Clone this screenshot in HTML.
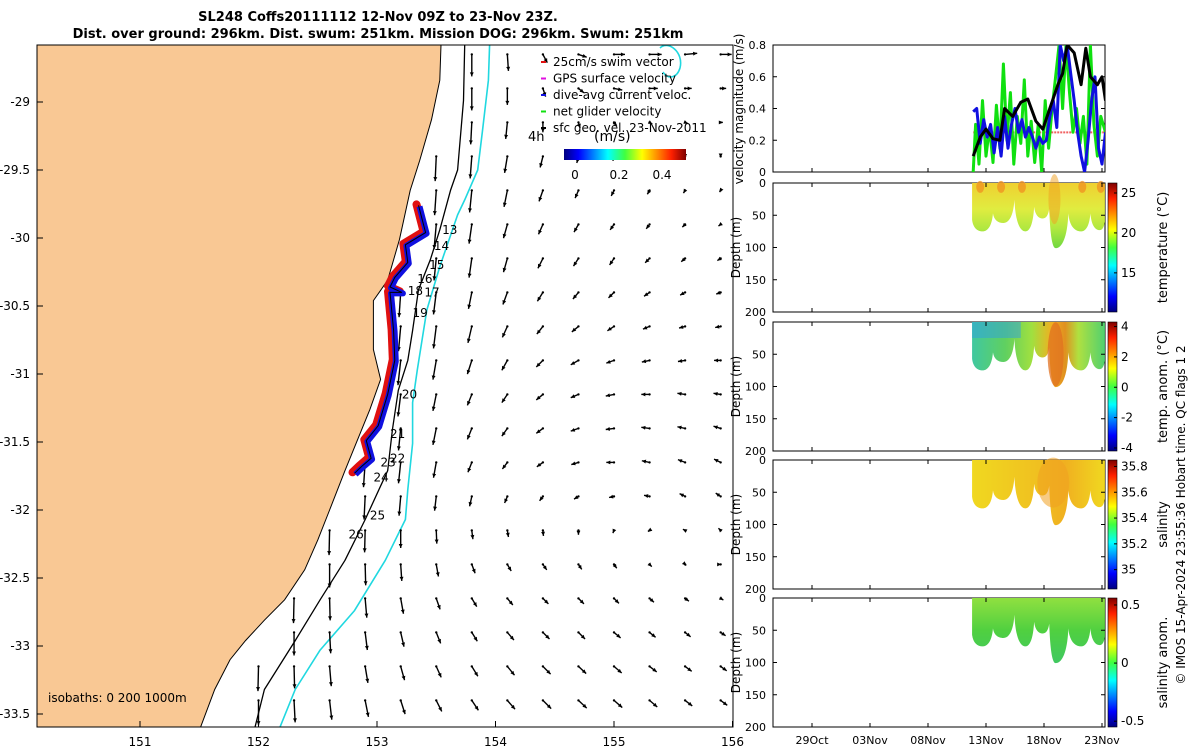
<!DOCTYPE html>
<html><head><meta charset="utf-8">
<style>
html,body{margin:0;padding:0;background:#fff;}
svg{display:block;font-family:"DejaVu Sans","Liberation Sans",sans-serif;}
</style></head>
<body>
<svg id="root" width="1200" height="750" viewBox="0 0 1200 750" xmlns="http://www.w3.org/2000/svg">
<defs>
<linearGradient id="jet" x1="0" y1="1" x2="0" y2="0">
<stop offset="0" stop-color="#00007f"/><stop offset="0.12" stop-color="#0000ff"/><stop offset="0.36" stop-color="#00ffff"/><stop offset="0.5" stop-color="#40ff40"/><stop offset="0.64" stop-color="#ffff00"/><stop offset="0.88" stop-color="#ff2000"/><stop offset="1" stop-color="#7f0000"/>
</linearGradient>
<linearGradient id="jeth" x1="0" y1="0" x2="1" y2="0">
<stop offset="0" stop-color="#00007f"/><stop offset="0.12" stop-color="#0000ff"/><stop offset="0.36" stop-color="#00ffff"/><stop offset="0.5" stop-color="#40ff40"/><stop offset="0.64" stop-color="#ffff00"/><stop offset="0.88" stop-color="#ff2000"/><stop offset="1" stop-color="#7f0000"/>
</linearGradient>
<linearGradient id="gTemp" x1="0" y1="0" x2="0" y2="1"><stop offset="0" stop-color="#f0d030"/><stop offset="0.4" stop-color="#e0ec40"/><stop offset="0.7" stop-color="#b0e840"/><stop offset="1" stop-color="#70d840"/></linearGradient>
<linearGradient id="gAnom" x1="0" y1="0" x2="1" y2="0"><stop offset="0" stop-color="#40c8a0"/><stop offset="0.25" stop-color="#60d060"/><stop offset="0.45" stop-color="#a0e040"/><stop offset="0.6" stop-color="#f0b020"/><stop offset="0.7" stop-color="#e09020"/><stop offset="0.8" stop-color="#b0e040"/><stop offset="1" stop-color="#50d070"/></linearGradient>
<linearGradient id="gSal" x1="0" y1="0" x2="1" y2="0"><stop offset="0" stop-color="#f0d820"/><stop offset="0.5" stop-color="#f0c020"/><stop offset="0.7" stop-color="#f0b020"/><stop offset="1" stop-color="#f0d820"/></linearGradient>
<linearGradient id="gSalA" x1="0" y1="0" x2="0" y2="1"><stop offset="0" stop-color="#90e040"/><stop offset="0.5" stop-color="#50d040"/><stop offset="1" stop-color="#40c860"/></linearGradient>
<clipPath id="mapClip"><rect x="37" y="45" width="696" height="682"/></clipPath>
</defs>
<g id="map" clip-path="url(#mapClip)"></g>
<g id="overlay"></g>
</svg>
<script>
// ---------- data ----------
const lonTicks=[151,152,153,154,155,156];
const latTicks=[-29,-29.5,-30,-30.5,-31,-31.5,-32,-32.5,-33,-33.5];
const gridLons=[152.0,152.3,152.6,152.9,153.2,153.5,153.8,154.1,154.4,154.7,155.0,155.3,155.6,155.9];
const gridLats=[-28.65,-28.9,-29.15,-29.4,-29.65,-29.9,-30.15,-30.4,-30.65,-30.9,-31.15,-31.4,-31.65,-31.9,-32.15,-32.4,-32.65,-32.9,-33.15,-33.4];
const vGrid=[
[0,0,0,0,0,0,-40,-30,-15,-5,0,0,2,0],
[0,0,0,0,0,0,-40,-30,-15,-8,-3,0,0,0],
[0,0,0,0,0,0,-40,-30,-18,-10,-6,-3,-2,0],
[0,0,0,0,0,-45,-40,-30,-20,-12,-8,-5,-3,-2],
[0,0,0,0,0,-45,-40,-30,-20,-14,-10,-7,-5,-3],
[0,0,0,0,-45,-45,-35,-25,-18,-14,-10,-8,-5,-3],
[0,0,0,0,-45,-40,-35,-25,-18,-14,-12,-8,-6,-4],
[0,0,0,0,-45,-40,-30,-22,-16,-12,-10,-7,-5,-3],
[0,0,0,0,-45,-40,-30,-20,-14,-10,-8,-5,-3,-2],
[0,0,0,-45,-45,-35,-25,-18,-12,-8,-5,-3,-2,0],
[0,0,0,-45,-40,-30,-20,-15,-10,-6,-3,0,2,2],
[0,0,0,-45,-40,-30,-20,-14,-9,-5,-2,2,3,4],
[0,0,-45,-45,-38,-28,-18,-12,-8,-4,0,3,5,6],
[0,0,-45,-42,-35,-26,-18,-12,-8,-5,-2,2,5,6],
[0,0,-45,-40,-32,-24,-16,-12,-10,-8,-5,-2,2,4],
[0,-45,-42,-38,-30,-22,-16,-12,-10,-9,-7,-4,-2,0],
[0,-45,-40,-35,-28,-20,-15,-12,-10,-10,-9,-7,-5,-3],
[-45,-42,-38,-32,-26,-20,-16,-14,-12,-12,-10,-9,-8,-6],
[-45,-40,-36,-30,-25,-20,-18,-16,-14,-13,-12,-10,-9,-8],
[-45,-40,-35,-30,-25,-20,-18,-16,-15,-14,-13,-12,-10,-9]];
const uGrid=[
[0,0,0,0,0,0,0,2,8,15,20,22,22,20],
[0,0,0,0,0,0,0,0,5,10,15,15,12,10],
[0,0,0,0,0,0,-2,-3,0,3,5,5,5,4],
[0,0,0,0,0,-2,-3,-5,-5,-3,-2,0,0,0],
[0,0,0,0,0,-3,-4,-6,-7,-6,-5,-4,-3,-2],
[0,0,0,0,-3,-4,-5,-7,-8,-8,-7,-6,-5,-4],
[0,0,0,0,-3,-4,-5,-7,-9,-9,-8,-8,-7,-6],
[0,0,0,0,-3,-5,-6,-8,-10,-10,-10,-10,-9,-8],
[0,0,0,0,-4,-5,-7,-9,-11,-12,-12,-12,-11,-10],
[0,0,0,-3,-5,-6,-8,-10,-12,-14,-14,-14,-13,-12],
[0,0,0,-3,-5,-6,-8,-10,-12,-14,-15,-15,-14,-13],
[0,0,0,-3,-4,-6,-8,-10,-12,-14,-15,-15,-14,-13],
[0,0,-2,-3,-4,-5,-7,-9,-11,-13,-14,-14,-13,-12],
[0,0,-2,-2,-3,-3,-4,-5,-6,-8,-9,-10,-10,-9],
[0,0,-1,-1,0,1,2,2,1,0,-2,-3,-4,-4],
[0,-1,0,1,2,4,6,7,7,6,5,4,2,1],
[0,-1,1,3,5,7,9,10,10,10,9,8,7,5],
[-1,0,2,4,6,8,10,12,12,12,12,11,10,9],
[-1,1,3,5,7,9,11,13,14,14,14,13,12,11],
[0,2,4,6,8,10,12,14,15,15,15,14,13,12]];
const coastLon=[153.54,153.53,153.46,153.36,153.28,153.19,153.09,152.97,152.97,153.03,152.94,152.87,152.73,152.60,152.50,152.39,152.22,152.05,151.89,151.76,151.63,151.51];
const coastLat=[-28.58,-28.84,-29.13,-29.43,-29.65,-30.01,-30.31,-30.46,-30.82,-31.04,-31.26,-31.41,-31.71,-32.00,-32.22,-32.44,-32.66,-32.81,-32.96,-33.10,-33.32,-33.60];
const iso200Lon=[153.74,153.73,153.68,153.62,153.53,153.45,153.35,153.30,153.26,153.18,153.13,153.09,152.90,152.73,152.52,152.31,152.05,151.97];
const iso200Lat=[-28.58,-28.99,-29.50,-29.65,-29.94,-30.16,-30.38,-30.68,-30.90,-31.12,-31.41,-31.71,-32.07,-32.37,-32.66,-32.96,-33.32,-33.60];
const iso1000Lon=[153.95,153.94,153.89,153.85,153.74,153.68,153.53,153.42,153.34,153.30,153.30,153.26,153.24,153.07,152.81,152.52,152.31,152.18];
const iso1000Lat=[-28.58,-28.84,-29.21,-29.50,-29.72,-29.83,-30.21,-30.53,-30.97,-31.21,-31.51,-31.85,-32.07,-32.37,-32.74,-33.03,-33.32,-33.60];
const trackLon=[153.35,153.41,153.24,153.26,153.15,153.11,153.21,153.11,153.14,153.15,153.09,153.01,152.91,152.95,152.87,152.81];
const trackLat=[-29.76,-29.96,-30.05,-30.18,-30.29,-30.36,-30.40,-30.40,-30.68,-30.90,-31.15,-31.38,-31.49,-31.62,-31.68,-31.73];
const dayLabels=["13","14","15","16","18","17","19","20","21","22","23","24","25","26"];
const dayLabelLon=[153.55,153.48,153.44,153.34,153.26,153.40,153.30,153.21,153.11,153.11,153.03,152.97,152.94,152.76];
const dayLabelLat=[-29.94,-30.06,-30.20,-30.30,-30.39,-30.40,-30.55,-31.15,-31.44,-31.62,-31.65,-31.76,-32.04,-32.18];
// velocity panel
const velTicks=[0,0.2,0.4,0.6,0.8];
const timeTickDays=[-2,3,8,13,18,23];
const timeTickLabels=["29Oct","03Nov","08Nov","13Nov","18Nov","23Nov"];
const blackDays=[11.9,12.5,13.0,13.6,14.2,14.6,15.3,16.0,16.6,17.3,17.9,18.5,19.2,19.6,20.0,20.6,21.2,21.6,22.0,22.6,23.0,23.3];
const blackVel=[0.10,0.22,0.27,0.21,0.20,0.40,0.35,0.44,0.46,0.32,0.27,0.40,0.55,0.62,0.80,0.75,0.55,0.78,0.60,0.55,0.60,0.45];
const blueDays=[11.9,12.2,12.5,12.8,13.1,13.4,13.7,14.0,14.3,14.6,14.9,15.2,15.5,15.8,16.1,16.4,16.7,17.0,17.3,17.6,17.9,18.2,18.5,18.8,19.1,19.4,19.7,20.0,20.3,20.6,20.9,21.2,21.5,21.8,22.1,22.4,22.7,23.0,23.3];
const blueVel=[0.38,0.40,0.18,0.33,0.22,0.30,0.12,0.28,0.10,0.35,0.15,0.30,0.40,0.25,0.33,0.22,0.28,0.22,0.15,0.22,0.18,0.20,0.35,0.45,0.28,0.80,0.70,0.80,0.62,0.45,0.25,0.10,0.00,0.20,0.45,0.60,0.15,0.05,0.25];
const greenDays=[11.9,12.1,12.4,12.7,13.0,13.3,13.6,13.9,14.2,14.5,14.8,15.1,15.4,15.7,16.0,16.3,16.6,16.9,17.2,17.5,17.8,18.1,18.4,18.7,19.0,19.3,19.6,19.9,20.2,20.5,20.8,21.1,21.4,21.7,22.0,22.3,22.6,22.9,23.3];
const greenVel=[0.00,0.30,0.05,0.45,0.10,0.28,0.06,0.42,0.15,0.68,0.20,0.50,0.05,0.35,0.18,0.58,0.10,0.32,0.06,0.30,0.00,0.45,0.15,0.40,0.60,0.80,0.40,0.80,0.50,0.25,0.40,0.18,0.35,0.05,0.80,0.30,0.10,0.35,0.25];
const swimRef=[0.25];
// section panels: dive trough times (day of Nov) and max depth (m)
const troughDays=[12.7,14.5,16.4,17.9,19.0,21.2,22.8];
const troughDepths=[75,62,75,55,101,75,73];
const peakDepths=[57,47,26,37,40,47,47,60];
const tempTicks=[15,20,25];
const anomTicks=[-4,-2,0,2,4];
const salTicks=[35,35.2,35.4,35.6,35.8];
const salAnomTicks=[-0.5,0,0.5];
const depthTicks=[0,50,100,150,200];
const dataStartDay=11.8, dataEndDay=23.25;

// ---------- helpers ----------
const NS="http://www.w3.org/2000/svg";
const root=document.getElementById('root');
const mapG=document.getElementById('map');
const ov=document.getElementById('overlay');
function mk(tag,attrs,parent){const e=document.createElementNS(NS,tag);for(const k in attrs)e.setAttribute(k,attrs[k]);(parent||ov).appendChild(e);return e;}
function txt(s,x,y,size,anchor,parent,extra){const e=mk('text',Object.assign({x:x,y:y,'font-size':size,'text-anchor':anchor||'start',fill:'#000'},extra||{}),parent);e.textContent=s;return e;}
const lx=lon=>140+(lon-151)*118.5;
const ly=lat=>102+(-29-lat)*136;
const tx=d=>870+(d-3)*11.6;

// ---------- map ----------
const water=mk('rect',{x:37,y:45,width:696,height:682,fill:'#fff'},mapG);


let landD='M 30 40 ';
for(let i=0;i<coastLon.length;i++)landD+='L '+lx(coastLon[i]).toFixed(1)+' '+ly(coastLat[i]).toFixed(1)+' ';
landD+='L 30 740 Z';
const land=mk('path',{d:landD,fill:'#f9c894',stroke:'#000','stroke-width':1},mapG);


function lineFrom(lons,lats,stroke,w){let d='';for(let i=0;i<lons.length;i++)d+=(i?'L':'M')+lx(lons[i]).toFixed(1)+' '+ly(lats[i]).toFixed(1)+' ';return mk('path',{d:d,fill:'none',stroke:stroke,'stroke-width':w,'stroke-linejoin':'round'},mapG);}
const iso2=lineFrom(iso200Lon,iso200Lat,'#000',1.3);


const iso1=lineFrom(iso1000Lon,iso1000Lat,'#20d8e0',1.6);


const loop=mk('path',{d:'M 660 48 C 668 40 684 52 680 68 C 677 78 668 80 663 72',fill:'none',stroke:'#20d8e0','stroke-width':1.6},mapG);


function coastXAt(y){for(let i=0;i<coastLat.length-1;i++){const y0=ly(coastLat[i]),y1=ly(coastLat[i+1]);if(y>=y0&&y<=y1){const f=(y-y0)/(y1-y0);return lx(coastLon[i])+f*(lx(coastLon[i+1])-lx(coastLon[i]));}}return 0;}
const arrowsG=mk('g',{},mapG);


const sc=0.55;
for(let r=0;r<gridLats.length;r++){for(let c=0;c<gridLons.length;c++){
  const x=lx(gridLons[c]),y=ly(gridLats[r]);
  if(x<coastXAt(y)+8)continue;
  const u=uGrid[r][c],v=vGrid[r][c];
  const ex=x+u*sc,ey=y-v*sc;
  const a=mk('g',{},arrowsG);
  
  
  mk('circle',{cx:x,cy:y,r:1.2,fill:'#000'},a);
  const L=Math.hypot(u,v);
  if(L>0.5){
    mk('line',{x1:x,y1:y,x2:ex,y2:ey,stroke:'#000','stroke-width':1.4},a);
    const ang=Math.atan2(ey-y,ex-x),h=4.5;
    mk('path',{d:`M ${ex} ${ey} L ${ex-h*Math.cos(ang-0.45)} ${ey-h*Math.sin(ang-0.45)} L ${ex-h*Math.cos(ang+0.45)} ${ey-h*Math.sin(ang+0.45)} Z`,fill:'#000'},a);
  }
}}
let td='';for(let i=0;i<trackLon.length;i++)td+=(i?'L':'M')+lx(trackLon[i]).toFixed(1)+' '+ly(trackLat[i]).toFixed(1)+' ';
const trRed=mk('path',{d:td,fill:'none',stroke:'#e01010','stroke-width':8,'stroke-linejoin':'round','stroke-linecap':'round',transform:'translate(-2,-1)'},mapG);


const trBlue=mk('path',{d:td,fill:'none',stroke:'#1010e0','stroke-width':6,'stroke-linejoin':'round',transform:'translate(1,1)'},mapG);


const trBlack=mk('path',{d:td,fill:'none',stroke:'#000','stroke-width':1},mapG);


for(let i=0;i<dayLabels.length;i++){const t=txt(dayLabels[i],lx(dayLabelLon[i]),ly(dayLabelLat[i])+4,12,'start',mapG);

}
const legG=mk('g',{},mapG);


const legNames=['25cm/s swim vector','GPS surface velocity','dive-avg current veloc.','net glider velocity','sfc geo. vel. 23-Nov-2011'];
const legCols=['#e01010','#e010e0','#1010e0','#10e010','#000'];
for(let i=0;i<5;i++){const y=66+i*16.5;mk('line',{x1:541,y1:y-4,x2:546,y2:y-4,stroke:legCols[i],'stroke-width':2},legG);txt(legNames[i],553,y,12,'start',legG);}
txt('4h',528,141,13,'start',legG);
txt('(m/s)',594,141,14,'start',legG);
mk('rect',{x:564,y:149,width:122,height:11,fill:'url(#jeth)'},legG);
txt('0',575,179,12,'middle',legG);txt('0.2',619,179,12,'middle',legG);txt('0.4',662,179,12,'middle',legG);
txt('isobaths: 0   200  1000m',48,702,12,'start',mapG,{'xml:space':'preserve'});
const mf=mk('rect',{x:37,y:45,width:696,height:682,fill:'none',stroke:'#000','stroke-width':1});


lonTicks.forEach(v=>{const x=lx(v);mk('line',{x1:x,y1:727,x2:x,y2:721,stroke:'#000'});const t=txt(String(v),x,746,12,'middle');

});
latTicks.forEach(v=>{const y=ly(v);mk('line',{x1:37,y1:y,x2:43,y2:y,stroke:'#000'});const t=txt(String(v),30,y+4,12,'end');

});
const t1=txt('SL248 Coffs20111112 12-Nov 09Z to 23-Nov 23Z.',378,21,13,'middle',ov,{'font-weight':'bold'});


const t2=txt('Dist. over ground: 296km. Dist. swum: 251km. Mission DOG: 296km. Swum: 251km',378,38,13,'middle',ov,{'font-weight':'bold'});



// ---------- velocity panel ----------
const PX0=773,PX1=1105;
const vy=v=>172-v*158.75;
const vp=mk('g',{});


mk('rect',{x:PX0,y:45,width:PX1-PX0,height:127,fill:'#fff',stroke:'#000'},vp);
velTicks.forEach(v=>{mk('line',{x1:PX0,y1:vy(v),x2:PX0+4,y2:vy(v),stroke:'#000'},vp);mk('line',{x1:PX1,y1:vy(v),x2:PX1-4,y2:vy(v),stroke:'#000'},vp);txt(String(v),766,vy(v)+4,11,'end',vp);});
const vlab=txt('velocity magnitude (m/s)',0,0,12,'middle',vp,{transform:'translate(743,109) rotate(-90)'});


const vclip=mk('clipPath',{id:'vclip'},root.querySelector('defs'));mk('rect',{x:PX0,y:45,width:PX1-PX0,height:127},vclip);
const vSeries=mk('g',{'clip-path':'url(#vclip)'},vp);
function series(days,vals,col,w){let d='';for(let i=0;i<days.length;i++)d+=(i?'L':'M')+tx(days[i]).toFixed(1)+' '+vy(vals[i]).toFixed(1)+' ';return mk('path',{d:d,fill:'none',stroke:col,'stroke-width':w,'stroke-linejoin':'round'},vSeries);}
const sr=mk('line',{x1:tx(11.9),y1:vy(swimRef[0]),x2:tx(23.3),y2:vy(swimRef[0]),stroke:'#f06060','stroke-width':2,'stroke-dasharray':'2,1'},vSeries);


const sg=series(greenDays,greenVel,'#10e010',3);


const sb=series(blueDays,blueVel,'#1010e0',3);


const sk=series(blackDays,blackVel,'#000',3);



// ---------- section panels ----------
const panels=[
 {y0:183,fill:'url(#gTemp)',ticks:tempTicks,min:10.1,max:26.25,label:'temperature (°C)',name:'temperature-panel'},
 {y0:322,fill:'url(#gAnom)',ticks:anomTicks,min:-4.2,max:4.3,label:'temp. anom. (°C)',name:'temp-anomaly-panel'},
 {y0:460,fill:'url(#gSal)',ticks:salTicks,min:34.85,max:35.85,label:'salinity',name:'salinity-panel'},
 {y0:598,fill:'url(#gSalA)',ticks:salAnomTicks,min:-0.55,max:0.56,label:'salinity anom.',name:'salinity-anomaly-panel'}];
panels.forEach((P,pi)=>{
 const H=129,dy=d=>P.y0+d*H/200;
 const g=mk('g',{});
 
 
 mk('rect',{x:PX0,y:P.y0,width:PX1-PX0,height:H,fill:'#fff',stroke:'#000'},g);
 const n=troughDays.length;
 const edge=i=> i===0?dataStartDay:(i===n?dataEndDay:(troughDays[i-1]+troughDays[i])/2);
 let d=`M ${tx(dataStartDay)} ${dy(0)} L ${tx(dataEndDay)} ${dy(0)} L ${tx(dataEndDay)} ${dy(peakDepths[n])} `;
 for(let i=n-1;i>=0;i--){
   const xr=tx(edge(i+1)),xl=tx(edge(i)),xc=tx(troughDays[i]),D=troughDepths[i];
   const pr=peakDepths[i+1],pl=peakDepths[i];
   d+=`C ${xr-1} ${dy(pr+(D-pr)*0.7)} ${xc+(xr-xc)*0.5} ${dy(D)} ${xc} ${dy(D)} `;
   d+=`C ${xc-(xc-xl)*0.5} ${dy(D)} ${xl+1} ${dy(pl+(D-pl)*0.7)} ${xl} ${dy(pl)} `;
 }
 d+=`L ${tx(dataStartDay)} ${dy(0)} Z`;
 const sec=mk('path',{d:d,fill:P.fill},g);
 
 
 if(pi===0){[12.5,14.3,16.1,21.3,22.9].forEach(t=>{mk('ellipse',{cx:tx(t),cy:dy(6),rx:4,ry:6,fill:'#f09020',opacity:0.75},g);});
   mk('ellipse',{cx:tx(18.9),cy:dy(25),rx:6,ry:25,fill:'#f0a020',opacity:0.5},g);}
 if(pi===1){mk('rect',{x:tx(11.8),y:dy(0),width:tx(16)-tx(11.8),height:16,fill:'#30a0e0',opacity:0.5},g);
   mk('ellipse',{cx:tx(19.0),cy:dy(50),rx:8,ry:32,fill:'#e07020',opacity:0.75},g);}
 if(pi===2){mk('ellipse',{cx:tx(18.8),cy:dy(35),rx:16,ry:25,fill:'#f0a020',opacity:0.55},g);}
 depthTicks.forEach(v=>{mk('line',{x1:PX0,y1:dy(v),x2:PX0+4,y2:dy(v),stroke:'#000'},g);mk('line',{x1:PX1,y1:dy(v),x2:PX1-4,y2:dy(v),stroke:'#000'},g);txt(String(v),766,dy(v)+4,11,'end',g);});
 const dl=txt('Depth (m)',0,0,12,'middle',g,{transform:`translate(740,${P.y0+H/2}) rotate(-90)`});
 
 
 timeTickDays.forEach(t=>{mk('line',{x1:tx(t),y1:P.y0+H,x2:tx(t),y2:P.y0+H-4,stroke:'#000'},g);mk('line',{x1:tx(t),y1:P.y0,x2:tx(t),y2:P.y0+4,stroke:'#000'},g);});
 const cb=mk('g',{},g);
 
 
 mk('rect',{x:1108,y:P.y0,width:9,height:H,fill:'url(#jet)',stroke:'#000','stroke-width':0.6},cb);
 P.ticks.forEach(v=>{const y=P.y0+H-(v-P.min)/(P.max-P.min)*H;mk('line',{x1:1117,y1:y,x2:1114,y2:y,stroke:'#000'},cb);txt(String(v),1121,y+4,12,'start',cb);});
 const cl=txt(P.label,0,0,13,'middle',cb,{transform:`translate(1167,${P.y0+H/2}) rotate(-90)`});
 
 
});
timeTickDays.forEach((t,i)=>{mk('line',{x1:tx(t),y1:172,x2:tx(t),y2:168,stroke:'#000'});const l=txt(timeTickLabels[i],tx(t),744,11,'middle');

});
const cr=txt('© IMOS 15-Apr-2024 23:55:36 Hobart time. QC flags 1  2',0,0,12,'middle',ov,{transform:'translate(1185,515) rotate(-90)','xml:space':'preserve'});


</script>
</body></html>
